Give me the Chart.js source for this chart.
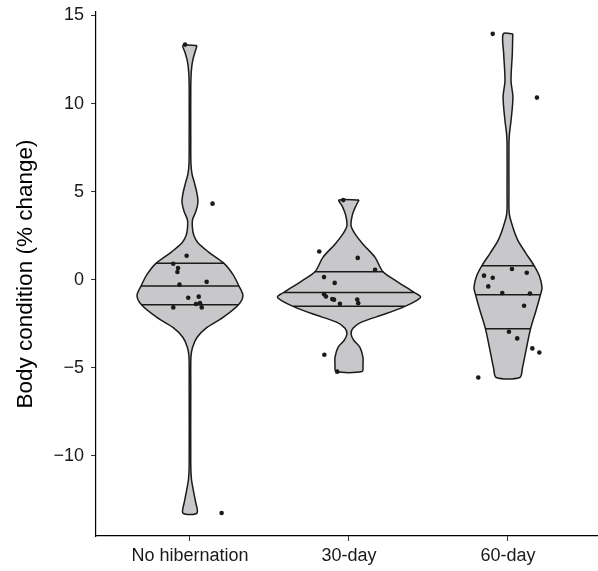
<!DOCTYPE html>
<html lang="en">
<head>
    <meta charset="UTF-8">
    <title>Body condition violins</title>
    <script src="https://cdn.jsdelivr.net/npm/chart.js"></script>
    <style>
        body { margin: 0; background: #fff; overflow: hidden; }
    </style>
</head>
<body>
    <canvas id="violinChart" width="602" height="571"></canvas>
    <script>
        const categories = ['No hibernation', '30-day', '60-day'];
        const yTicks = [-10, -5, 0, 5, 10, 15];

        // violin outlines: y value and half width (category units)
        const noHibY = [13.3, 12.9, 12.4, 11.8, 11.0, 8.0, 6.6, 6.0, 5.5, 4.9, 4.4, 3.9, 3.4, 2.9, 2.5, 2.1, 1.6, 0.93, 0.3, -0.36, -0.91, -1.42, -2.14, -2.71, -3.28, -3.85, -4.4, -6.0, -10.5, -11.3, -12.0, -12.6, -13.25];
        const noHibW = [0.044, 0.031, 0.016, 0.008, 0.005, 0.005, 0.006, 0.013, 0.028, 0.044, 0.05, 0.038, 0.016, 0.016, 0.025, 0.05, 0.113, 0.214, 0.27, 0.308, 0.333, 0.305, 0.208, 0.107, 0.044, 0.016, 0.006, 0.005, 0.005, 0.009, 0.022, 0.035, 0.044];
        const day30Y = [4.53, 4.2, 3.7, 3.07, 2.6, 2.02, 1.27, 0.45, -0.06, -0.72, -0.97, -1.2, -1.51, -1.95, -2.42, -2.75, -3.08, -3.45, -3.84, -4.41, -4.85, -5.21];
        const day30W = [0.063, 0.044, 0.022, 0.013, 0.038, 0.088, 0.164, 0.214, 0.296, 0.409, 0.45, 0.421, 0.352, 0.226, 0.075, 0.025, 0.013, 0.031, 0.069, 0.088, 0.088, 0.082];
        const day60Y = [13.96, 12.82, 11.3, 10.36, 9.03, 8.28, 7.7, 5.0, 3.75, 2.97, 2.22, 1.5, 0.8, 0.2, -0.44, -0.85, -1.76, -2.78, -4.03, -5.0, -5.55];
        const day60W = [0.030, 0.027, 0.019, 0.031, 0.019, 0.009, 0.006, 0.006, 0.008, 0.031, 0.063, 0.113, 0.164, 0.198, 0.214, 0.204, 0.176, 0.142, 0.113, 0.091, 0.074];

        // quartile lines
        const noHibQ = [0.93, -0.36, -1.42];
        const noHibQW = [0.214, 0.308, 0.302];
        const day30Q = [0.45, -0.72, -1.51];
        const day30QW = [0.214, 0.409, 0.352];
        const day60Q = [0.8, -0.85, -2.78];
        const day60QW = [0.164, 0.201, 0.142];

        // jittered observations (x offset from category centre)
        const noHibPtX = [-0.031, 0.142, -0.021, -0.105, -0.075, -0.079, -0.066, 0.105, -0.011, 0.055, -0.105, 0.038, 0.063, 0.074, 0.199];
        const noHibPtY = [13.35, 4.32, 1.36, 0.91, 0.66, 0.44, -0.28, -0.12, -1.02, -0.96, -1.57, -1.38, -1.33, -1.57, -13.24];
        const day30PtX = [-0.036, -0.187, 0.055, 0.164, -0.157, -0.09, -0.157, -0.145, -0.105, -0.094, -0.057, 0.052, 0.058, -0.155, -0.074];
        const day30PtY = [4.52, 1.6, 1.24, 0.56, 0.15, -0.18, -0.82, -0.95, -1.1, -1.13, -1.37, -1.12, -1.33, -4.26, -5.22];
        const day60PtX = [-0.096, 0.182, 0.025, 0.118, -0.151, -0.096, -0.124, -0.036, 0.138, 0.101, 0.006, 0.058, 0.153, 0.197, -0.187];
        const day60PtY = [13.96, 10.34, 0.61, 0.40, 0.23, 0.11, -0.38, -0.76, -0.78, -1.48, -2.95, -3.33, -3.9, -4.13, -5.55];

        const violins = [
            { ys: noHibY, ws: noHibW, q: noHibQ, qw: noHibQW, px: noHibPtX, py: noHibPtY },
            { ys: day30Y, ws: day30W, q: day30Q, qw: day30QW, px: day30PtX, py: day30PtY },
            { ys: day60Y, ws: day60W, q: day60Q, qw: day60QW, px: day60PtX, py: day60PtY }
        ];

        const ink = '#1a1a1a';
        const font = "'Liberation Sans', Arial, Helvetica, sans-serif";

        function outline(pos, ys, ws) {
            const right = ys.map((y, i) => ({ x: pos + ws[i], y: y }));
            const left = ys.map((y, i) => ({ x: pos - ws[i], y: y })).reverse();
            return right.concat(left, [right[0]]);
        }

        const datasets = [];
        violins.forEach((v, i) => {
            const pos = i + 1;
            datasets.push({
                data: outline(pos, v.ys, v.ws),
                borderColor: ink,
                borderWidth: 1.5,
                backgroundColor: '#c8c8ca',
                fill: 'shape',
                tension: 0.3,
                pointRadius: 0,
                order: 3
            });
            v.q.forEach((qv, j) => {
                datasets.push({
                    data: [{ x: pos - v.qw[j], y: qv }, { x: pos + v.qw[j], y: qv }],
                    borderColor: ink,
                    borderWidth: 1.5,
                    fill: false,
                    pointRadius: 0,
                    order: 2
                });
            });
            datasets.push({
                data: v.px.map((dx, j) => ({ x: pos + dx, y: v.py[j] })),
                showLine: false,
                pointRadius: 2.3,
                pointBackgroundColor: ink,
                pointBorderWidth: 0,
                order: 1
            });
        });

        new Chart(document.getElementById('violinChart'), {
            type: 'line',
            data: { datasets: datasets },
            options: {
                responsive: false,
                animation: false,
                layout: { padding: { top: 12, right: 0, left: 0, bottom: 0 } },
                plugins: { legend: { display: false }, tooltip: { enabled: false } },
                scales: {
                    x: {
                        type: 'linear',
                        min: 0.409,
                        max: 3.566,
                        afterFit: s => { s.height = 35; s.paddingLeft = 0; s.paddingRight = 0; },
                        afterBuildTicks: s => { s.ticks = categories.map((c, i) => ({ value: i + 1 })); },
                        ticks: {
                            callback: v => categories[v - 1],
                            color: ink,
                            font: { family: font, size: 18 },
                            padding: 4,
                            maxRotation: 0
                        },
                        grid: { drawOnChartArea: false, drawTicks: true, tickLength: 5, color: '#333' },
                        border: { display: true, color: '#000', width: 1.2 }
                    },
                    y: {
                        min: -14.55,
                        max: 15.2,
                        afterFit: s => { s.width = 96; s.paddingTop = 0; s.paddingBottom = 0; },
                        afterBuildTicks: s => { s.ticks = yTicks.map(v => ({ value: v })); },
                        ticks: {
                            callback: v => v < 0 ? '\u2212' + Math.abs(v) : String(v),
                            color: ink,
                            font: { family: font, size: 18 },
                            padding: 7
                        },
                        grid: { drawOnChartArea: false, drawTicks: true, tickLength: 5, color: '#333' },
                        border: { display: true, color: '#000', width: 1.2 },
                        title: {
                            display: true,
                            text: 'Body condition (% change)',
                            color: '#000',
                            font: { family: font, size: 22.5 },
                            padding: { top: 12, bottom: 0 }
                        }
                    }
                }
            }
        });
    </script>
</body>
</html>
